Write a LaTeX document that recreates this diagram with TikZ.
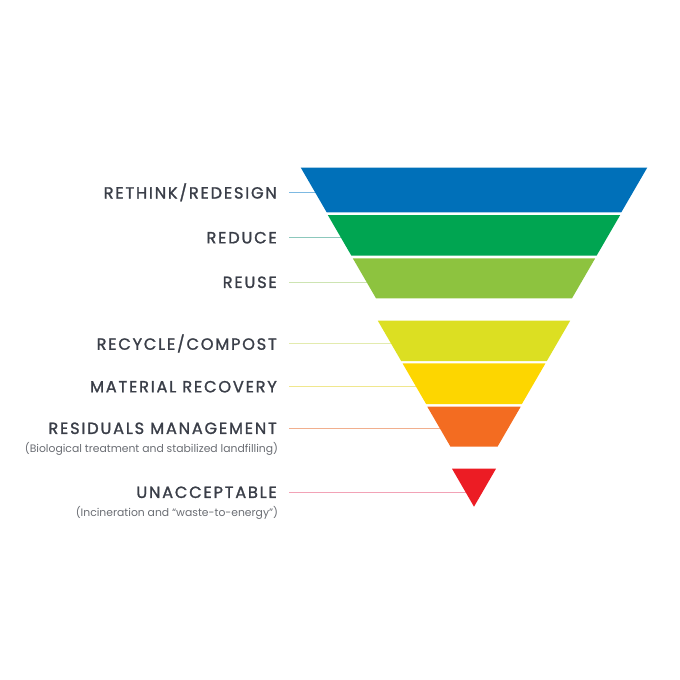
\documentclass[tikz,border=0pt]{standalone}
\usepackage{fontspec}
\usepackage{xcolor}
\usepackage{tikz}
\usetikzlibrary{positioning}
\newfontfamily\levelfont[LetterSpace=11,FakeBold=1.4]{Poppins}
\newfontfamily\notefont{Poppins}
\definecolor{textgrey}{HTML}{3A3E48}
\definecolor{notegrey}{HTML}{6A6D73}
\definecolor{cblue}{HTML}{0070B9}
\definecolor{cgreen}{HTML}{00A551}
\definecolor{clime}{HTML}{8DC33F}
\definecolor{cyellowgreen}{HTML}{DCDF22}
\definecolor{cyellow}{HTML}{FDD600}
\definecolor{corange}{HTML}{F36C21}
\definecolor{cred}{HTML}{EC1C24}
\definecolor{lblue}{HTML}{7DB9E2}
\definecolor{lgreen}{HTML}{8CC8BC}
\definecolor{llime}{HTML}{CDE4B2}
\definecolor{lyellowgreen}{HTML}{E3EBAE}
\definecolor{lyellow}{HTML}{F0E78E}
\definecolor{lorange}{HTML}{F1AF8E}
\definecolor{lred}{HTML}{F2A2B6}

\begin{document}
\begin{tikzpicture}[x=1pt,y=-1pt,
  level/.style = {anchor=east,inner sep=0pt,text=textgrey,
        font=\levelfont\fontsize{16.2}{18}\selectfont},
  note/.style = {inner sep=0pt,text=notegrey,
        font=\notefont\fontsize{10.8}{12}\selectfont},
  leader/.style = {line width=1.1pt,shorten <=12pt}]
 \useasboundingbox (0,0) rectangle (680,680);
 % labels on the left
 \node[level] (rethink)  at (277,192.3) {RETHINK/REDESIGN};
 \node[level] (reduce)   at (277,237.7) {REDUCE};
 \node[level] (reuse)    at (277,282.3) {REUSE};
 \node[level] (recycle)  at (277,343.5) {RECYCLE/COMPOST};
 \node[level] (recovery) at (277,386.7) {MATERIAL RECOVERY};
 \node[level] (residual) at (277,428.3) {RESIDUALS MANAGEMENT};
 \node[note,below left=8pt and -1.3pt of residual.south east] (residualnote)
   {(Biological treatment and stabilized landfilling)};
 \node[level] (unaccept) at (277,492.3) {UNACCEPTABLE};
 \node[note,below left=8pt and -1.3pt of unaccept.south east] (unacceptnote)
   {(Incineration and “waste-to-energy”)};
 % leader lines, behind the bands
 \foreach \n/\c in {rethink/lblue,reduce/lgreen,reuse/llime,recycle/lyellowgreen,
                   recovery/lyellow,residual/lorange,unaccept/lred} {
   \coordinate (\n-end) at (474,0 |- \n);
   \draw[leader,\c] (\n) -- (\n-end);
 }
 % the bands: name/colour/top/bottom/half width at top
 \foreach \n/\c/\t/\b/\w in {blue/cblue/167.5/212.3/173.3,
                            green/cgreen/215/255.7/146.2,
                            lime/clime/258.3/298.3/121.2,
                            yellowgreen/cyellowgreen/320.7/361/96.2,
                            yellow/cyellow/363.3/404/71.5,
                            orange/corange/406.7/446.7/46.7,
                            red/cred/468.7/506.7/22} {
   \pgfmathsetmacro\wb{max(\w-0.58*(\b-\t),0)}
   \fill[\c] (474-\w,\t) -- (474+\w,\t) -- (474+\wb,\b) -- (474-\wb,\b) -- cycle;
 }
\end{tikzpicture}
\end{document}
